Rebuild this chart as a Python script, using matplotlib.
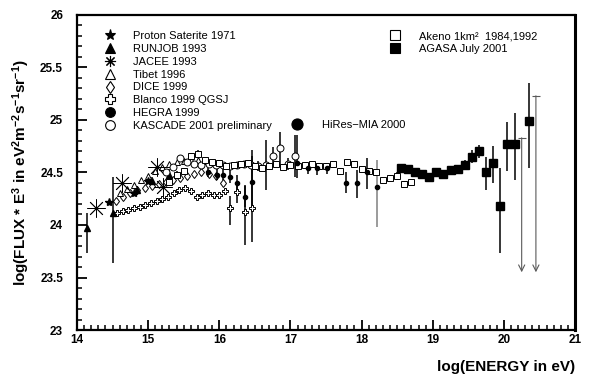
import numpy as np
import matplotlib.pyplot as plt
from matplotlib.lines import Line2D
from matplotlib.ticker import MultipleLocator, FormatStrFormatter

plt.rcParams['font.family'] = ['Liberation Sans', 'DejaVu Sans']
plt.rcParams['mathtext.fontset'] = 'custom'
plt.rcParams['mathtext.rm'] = 'Liberation Sans'
plt.rcParams['mathtext.bf'] = 'Liberation Sans:bold'
plt.rcParams['mathtext.default'] = 'bf'

# --- data: log10(E/eV), log10(flux*E^3) ---
proton_x = [14.45, 14.80, 15.00]
proton_y = [24.22, 24.30, 24.42]

runjob_x = [14.14, 14.50, 14.85, 15.05, 15.30]
runjob_y = [23.97, 24.11, 24.33, 24.42, 24.48]
runjob_lo = [0.24, 0.47, 0.04, 0.04, 0.05]
runjob_hi = [0.14, 0.35, 0.04, 0.04, 0.05]

jacee_x = [14.27, 14.63, 15.12, 15.21]
jacee_y = [24.16, 24.40, 24.55, 24.36]

tibet_x = [14.6, 14.7, 14.8, 14.9, 15.0, 15.1, 15.2, 15.3, 15.4, 15.5, 15.6, 15.7, 15.8, 15.9]
tibet_y = [24.30, 24.34, 24.38, 24.43, 24.47, 24.51, 24.55, 24.58, 24.60, 24.61, 24.62, 24.62, 24.61, 24.60]

dice_x = [14.55, 14.65, 14.75, 14.85, 14.95, 15.05, 15.15, 15.25, 15.35, 15.45, 15.55, 15.65,
          15.75, 15.85, 15.95, 16.05]
dice_y = [24.23, 24.27, 24.30, 24.33, 24.35, 24.37, 24.39, 24.41, 24.43, 24.45, 24.47, 24.49,
          24.50, 24.49, 24.47, 24.40]

blanco_x = [14.56, 14.64, 14.72, 14.80, 14.88, 14.96, 15.04, 15.12, 15.20, 15.28, 15.36, 15.44,
            15.52, 15.60, 15.68, 15.76, 15.84, 15.92, 16.00, 16.08, 16.15, 16.25, 16.36, 16.46]
blanco_y = [24.11, 24.13, 24.14, 24.16, 24.17, 24.19, 24.21, 24.23, 24.25, 24.27, 24.30, 24.33,
            24.35, 24.32, 24.27, 24.29, 24.30, 24.29, 24.29, 24.32, 24.16, 24.31, 24.12, 24.16]
blanco_lo = [0] * 20 + [0.16, 0.10, 0.31, 0.32]
blanco_hi = [0] * 20 + [0.12, 0.08, 0.26, 0.55]

hegra_x = [15.84, 15.97, 16.05, 16.15, 16.25, 16.36, 16.46]
hegra_y = [24.50, 24.48, 24.48, 24.46, 24.40, 24.27, 24.41]
hegra_lo = [0.04, 0.05, 0.05, 0.06, 0.08, 0.10, 0.25]
hegra_hi = [0.04, 0.05, 0.05, 0.06, 0.08, 0.10, 0.25]

kascade_x = [15.25, 15.35, 15.45, 15.55, 15.65, 15.75, 15.85, 15.95, 16.05, 16.15, 16.25, 16.35,
             16.45, 16.55, 16.66, 16.76, 16.86, 16.96, 17.07]
kascade_y = [24.50, 24.55, 24.64, 24.60, 24.58, 24.57, 24.58, 24.57, 24.57, 24.56, 24.57, 24.58,
             24.57, 24.56, 24.57, 24.66, 24.73, 24.58, 24.66]
kascade_err = [0.03] * 13 + [0.05, 0.24, 0.08, 0.16, 0.06, 0.20]

hires_x = [17.09, 17.24, 17.38, 17.51, 17.78, 17.93, 18.07, 18.22]
hires_y = [24.59, 24.54, 24.54, 24.54, 24.40, 24.40, 24.50, 24.36]
hires_lo = [0.14, 0.05, 0.06, 0.05, 0.10, 0.14, 0.16, 0.38]
hires_hi = [0.27, 0.04, 0.05, 0.04, 0.10, 0.12, 0.14, 0.26]

akeno_x = [15.3, 15.4, 15.5, 15.6, 15.7, 15.8, 15.9, 16.0, 16.1, 16.2, 16.3, 16.4, 16.5, 16.6,
           16.7, 16.8, 16.9, 17.0, 17.1, 17.2, 17.3, 17.4, 17.5, 17.6, 17.7, 17.8, 17.9, 18.0,
           18.1, 18.2, 18.3, 18.4, 18.5, 18.6, 18.7]
akeno_y = [24.41, 24.48, 24.51, 24.66, 24.68, 24.62, 24.60, 24.59, 24.56, 24.57, 24.58, 24.59,
           24.56, 24.54, 24.56, 24.58, 24.55, 24.57, 24.56, 24.57, 24.58, 24.56, 24.56, 24.58,
           24.51, 24.60, 24.58, 24.53, 24.51, 24.50, 24.43, 24.45, 24.47, 24.39, 24.41]

agasa_x = [18.55, 18.65, 18.75, 18.85, 18.95, 19.05, 19.15, 19.25, 19.35, 19.45, 19.55, 19.65,
           19.75, 19.85, 19.95, 20.05, 20.15, 20.35]
agasa_y = [24.54, 24.53, 24.50, 24.49, 24.46, 24.50, 24.49, 24.52, 24.53, 24.57, 24.65, 24.70,
           24.50, 24.59, 24.18, 24.77, 24.77, 24.99]
agasa_lo = [0.04, 0.04, 0.03, 0.03, 0.03, 0.03, 0.03, 0.04, 0.04, 0.05, 0.06, 0.06,
            0.17, 0.19, 0.45, 0.26, 0.34, 0.45]
agasa_hi = [0.04, 0.04, 0.03, 0.03, 0.03, 0.03, 0.03, 0.04, 0.04, 0.05, 0.06, 0.06,
            0.15, 0.16, 0.36, 0.21, 0.30, 0.36]

limit_x = [20.25, 20.45]
limit_top = [24.83, 25.23]
limit_bottom = [23.55, 23.55]

fig = plt.figure(figsize=(5.99, 3.82), dpi=100)
ax = fig.add_axes([0.1285, 0.136, 0.8315, 0.825])

k = dict(color='black', ecolor='black', elinewidth=1.1, capsize=0, ls='none')
ax.errorbar(blanco_x, blanco_y, yerr=[blanco_lo, blanco_hi], fmt='P', ms=5, mfc='white',
            mec='black', mew=0.7, **k)
ax.plot(dice_x, dice_y, 'd', ms=4.5, mfc='white', mec='black', mew=0.7)
ax.errorbar(runjob_x, runjob_y, yerr=[runjob_lo, runjob_hi], fmt='^', ms=5, **k)
ax.plot(tibet_x, tibet_y, '^', ms=5, mfc='white', mec='black', mew=0.7)
ax.plot(proton_x, proton_y, '*', ms=6, color='black')
ax.errorbar(kascade_x, kascade_y, yerr=kascade_err, fmt='o', ms=5, mfc='white', mec='black',
            mew=0.7, **k)
ax.errorbar(akeno_x, akeno_y, yerr=0.03, fmt='s', ms=5, mfc='white', mec='black', mew=0.7, **k)
ax.errorbar(hegra_x, hegra_y, yerr=[hegra_lo, hegra_hi], fmt='o', ms=3, **k)
ax.errorbar(hires_x[:-1], hires_y[:-1], yerr=[hires_lo[:-1], hires_hi[:-1]], fmt='o', ms=3, **k)
ax.errorbar(hires_x[-1:], hires_y[-1:], yerr=[hires_lo[-1:], hires_hi[-1:]], fmt='o', ms=3,
            color='black', ecolor='0.5', elinewidth=1.1, capsize=0, ls='none')
ax.plot(jacee_x, jacee_y, marker=(8, 2, 0), ms=13, ls='none', color='black', mew=0.6)
ax.errorbar(agasa_x, agasa_y, yerr=[agasa_lo, agasa_hi], fmt='s', ms=5.5, **k)

# upper limits
for x, top, bot in zip(limit_x, limit_top, limit_bottom):
    ax.annotate('', xy=(x, bot), xytext=(x, top),
                arrowprops=dict(arrowstyle='->', color='0.35', lw=0.8,
                                shrinkA=0, shrinkB=0, mutation_scale=11))
ax.plot(limit_x, limit_top, '_', ms=6, color='0.35', mew=0.8)

ax.set_xlim(14, 21)
ax.set_ylim(23, 26)
ax.xaxis.set_major_locator(MultipleLocator(1))
ax.xaxis.set_minor_locator(MultipleLocator(0.1))
ax.yaxis.set_major_locator(MultipleLocator(0.5))
ax.yaxis.set_minor_locator(MultipleLocator(0.1))
ax.yaxis.set_major_formatter(FormatStrFormatter('%g'))
ax.tick_params(which='major', direction='in', length=7, width=1.3, labelsize=8.5)
ax.tick_params(which='minor', direction='in', length=3.5, width=1.1)
ax.tick_params(axis='y', pad=10)
ax.tick_params(axis='x', pad=3)
for t in ax.get_xticklabels() + ax.get_yticklabels():
    t.set_fontweight('bold')
for s in ax.spines.values():
    s.set_linewidth(1.6)
ax.spines['right'].set_linewidth(2.2)

ax.set_ylabel(r'log(FLUX * E$^{3}$ in eV$^{2}$m$^{-2}$s$^{-1}$sr$^{-1}$)',
              fontsize=11, fontweight='bold', labelpad=6)
ax.set_xlabel('log(ENERGY in eV)', fontsize=11, fontweight='bold', loc='right', labelpad=10)

def h(marker, ms=7, fill='black'):
    return Line2D([], [], marker=marker, ls='none', ms=ms, mfc=fill, mec='black',
                  color='black', mew=0.8)

left_handles = [h('*', 8), h('^'), h((8, 2, 0), 8), h('^', 7, 'white'), h('d', 6, 'white'),
                h('P', 7, 'white'), h('o'), h('o', 7, 'white')]
left_labels = ['Proton Saterite 1971', 'RUNJOB 1993', 'JACEE 1993', 'Tibet 1996', 'DICE 1999',
               'Blanco 1999 QGSJ', 'HEGRA 1999', 'KASCADE 2001 preliminary']
leg1 = ax.legend(left_handles, left_labels, loc='upper left', bbox_to_anchor=(0.055, 0.948),
                 frameon=False, fontsize=8, handlelength=1.0, handletextpad=1.6,
                 labelspacing=0.25, borderpad=0, borderaxespad=0)
ax.add_artist(leg1)
leg2 = ax.legend([h('s', 6.5, 'white'), h('s', 6.5)],
                 ['Akeno 1km\u00b2  1984,1992', 'AGASA July 2001'],
                 loc='upper left', bbox_to_anchor=(0.628, 0.948), frameon=False, fontsize=8,
                 handlelength=1.0, handletextpad=1.6, labelspacing=0.25, borderpad=0,
                 borderaxespad=0)
ax.add_artist(leg2)
ax.legend([h('o', 8)], ['HiRes\u2212MIA 2000'], loc='upper left', bbox_to_anchor=(0.43, 0.668),
          frameon=False, fontsize=8, handlelength=1.0, handletextpad=1.8, borderpad=0,
          borderaxespad=0)

fig.savefig('out.png', dpi=100)
